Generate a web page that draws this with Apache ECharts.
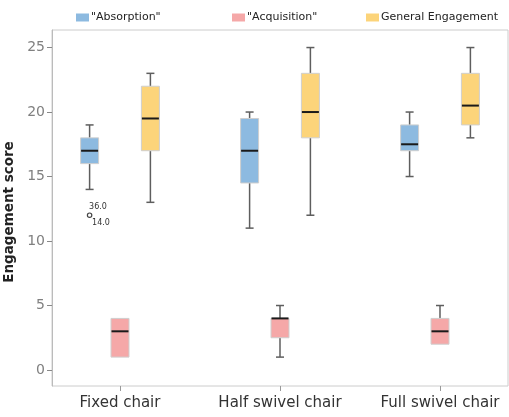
<!DOCTYPE html>
<html>
<head>
<meta charset="utf-8">
<script src="https://cdn.jsdelivr.net/npm/echarts@6/dist/echarts.min.js"></script>
<style>html,body{margin:0;padding:0;background:#fff}#c{width:509px;height:417px}</style>
</head>
<body>
<div id="c"></div>
<script>
// ---- data ----
const categories = ['Fixed chair', 'Half swivel chair', 'Full swivel chair'];
const seriesNames = ['"Absorption"', '"Acquisition"', 'General Engagement'];
// [min, Q1, median, Q3, max] per category
const absorption = [[14, 16, 17, 18, 19], [11, 14.5, 17, 19.5, 20], [15, 17, 17.5, 19, 20]];
const acquisition = [[1, 1, 3, 4, 4], [1, 2.5, 4, 4, 5], [2, 2, 3, 4, 5]];
const generalEngagement = [[13, 17, 19.5, 22, 23], [12, 18, 20, 23, 25], [18, 19, 20.5, 23, 25]];
// outliers: category index, series index, value, case labels
const outlierCat = [0];
const outlierSeries = [0];
const outlierValue = [12];
const outlierLabels = [['36.0', '14.0']];
const yTicks = [0, 5, 10, 15, 20, 25];

// ---- style ----
const colors = ['#8dbae0', '#f5a8a8', '#fcd47a'];
const offsets = [-0.19, 0, 0.19];
const BOX_W = 18, CAP_W = 8;
const allData = [absorption, acquisition, generalEngagement];

function boxRender(sIdx) {
  return function (params, api) {
    const c = api.value(0) + offsets[sIdx];
    const p = i => api.coord([c, api.value(i)]);
    const pMin = p(1), pQ1 = p(2), pMed = p(3), pQ3 = p(4), pMax = p(5);
    const x = pMed[0];
    const wStyle = { stroke: '#5e5e5e', lineWidth: 1.5 };
    const children = [];
    if (pMax[1] < pQ3[1] - 0.5) {
      children.push({ type: 'line', shape: { x1: x, y1: pQ3[1], x2: x, y2: pMax[1] }, style: wStyle });
      children.push({ type: 'line', shape: { x1: x - CAP_W / 2, y1: pMax[1], x2: x + CAP_W / 2, y2: pMax[1] }, style: wStyle });
    }
    if (pMin[1] > pQ1[1] + 0.5) {
      children.push({ type: 'line', shape: { x1: x, y1: pQ1[1], x2: x, y2: pMin[1] }, style: wStyle });
      children.push({ type: 'line', shape: { x1: x - CAP_W / 2, y1: pMin[1], x2: x + CAP_W / 2, y2: pMin[1] }, style: wStyle });
    }
    children.push({
      type: 'rect',
      shape: { x: x - BOX_W / 2, y: pQ3[1], width: BOX_W, height: pQ1[1] - pQ3[1] },
      style: { fill: colors[sIdx], stroke: '#cfcfcf', lineWidth: 1 }
    });
    children.push({ type: 'line', shape: { x1: x - BOX_W / 2 + 0.5, y1: pMed[1], x2: x + BOX_W / 2 - 0.5, y2: pMed[1] }, style: { stroke: '#1a1a1a', lineWidth: 2 } });
    return { type: 'group', children: children };
  };
}

const series = allData.map((arr, s) => ({
  name: seriesNames[s],
  type: 'custom',
  renderItem: boxRender(s),
  itemStyle: { color: colors[s] },
  encode: { x: 0, y: [1, 2, 3, 4, 5] },
  data: arr.map((d, i) => [i].concat(d)),
  silent: true
}));

series.push({
  type: 'custom',
  renderItem: function (params, api) {
    const pt = api.coord([api.value(0), api.value(1)]);
    const labs = outlierLabels[params.dataIndex];
    return {
      type: 'group',
      children: [
        { type: 'circle', shape: { cx: pt[0], cy: pt[1], r: 2.2 }, style: { fill: 'none', stroke: '#444', lineWidth: 1.2 } },
        { type: 'text', style: { text: labs[0], x: pt[0] - 0.5, y: pt[1] - 8.5, fill: '#333', font: '8px "DejaVu Sans"', verticalAlign: 'middle', align: 'left' } },
        { type: 'text', style: { text: labs[1], x: pt[0] + 2.5, y: pt[1] + 7.5, fill: '#333', font: '8px "DejaVu Sans"', verticalAlign: 'middle', align: 'left' } }
      ]
    };
  },
  data: outlierValue.map((v, i) => [outlierCat[i] + offsets[outlierSeries[i]], v]),
  silent: true
});

const legendLeft = [76, 232, 366];
const chart = echarts.init(document.getElementById('c'), null, { renderer: 'canvas' });
chart.setOption({
  animation: false,
  color: colors,
  textStyle: { fontFamily: 'DejaVu Sans' },
  legend: seriesNames.map((n, i) => ({
    data: [{ name: n, icon: 'rect' }],
    left: legendLeft[i] - 5, top: 7,
    itemWidth: 13, itemHeight: 8,
    textStyle: { fontSize: 11, color: '#222', fontFamily: 'DejaVu Sans', padding: [0, 0, 0, -3] },
    selectedMode: false
  })),
  grid: { left: 52, top: 30, width: 456, height: 356, show: true, borderColor: '#cccccc', borderWidth: 1, containLabel: false, outerBoundsMode: 'none' },
  xAxis: {
    type: 'value', min: -0.425, max: 2.425,
    splitLine: { show: false },
    axisLine: { show: false, onZero: false },
    axisTick: { show: true, length: 5, lineStyle: { color: '#999' }, customValues: [0, 1, 2] },
    axisLabel: { customValues: [0, 1, 2], formatter: v => categories[Math.round(v)], fontSize: 15, color: '#333', margin: 10, fontFamily: 'DejaVu Sans' }
  },
  yAxis: {
    type: 'value', min: -1.24, max: 26.36,
    name: 'Engagement score', nameLocation: 'middle', nameGap: 27, nameRotate: 90,
    nameTextStyle: { fontSize: 13.5, fontWeight: 'bold', color: '#222', fontFamily: 'DejaVu Sans', verticalAlign: 'middle', padding: [0, 8, 0, 0] },
    splitLine: { show: false },
    axisLine: { show: true, onZero: false, lineStyle: { color: '#bbb' } },
    axisTick: { show: true, length: 5, lineStyle: { color: '#888' }, customValues: yTicks },
    axisLabel: { customValues: yTicks, fontSize: 14, color: '#808080', margin: 7, fontFamily: 'DejaVu Sans' }
  },
  series: series
});
</script>
</body>
</html>
